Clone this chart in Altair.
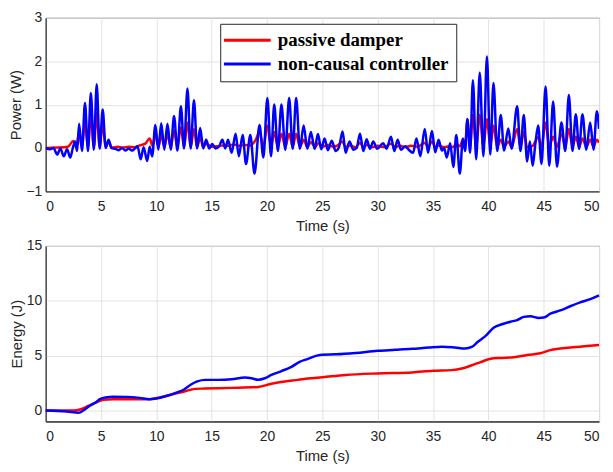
import altair as alt
import pandas as pd

# ---------------- Power (top panel) ----------------
t_noncausal = [0, 0.4, 0.7, 1.04, 1.33, 1.63, 1.93, 2.22, 2.45, 2.66, 2.84, 3.02, 3.28, 3.55, 3.82,
               4.08, 4.35, 4.61, 4.88, 5.15, 5.42, 5.68, 5.95, 6.3, 6.6, 6.9, 7.2, 7.5, 7.8, 8.1,
               8.3, 8.58, 8.85, 9.17, 9.4, 9.62, 9.91, 10.18, 10.44, 10.72, 11.0, 11.3, 11.6, 11.9,
               12.22, 12.5, 12.81, 13.1, 13.4, 13.68, 13.96, 14.23, 14.5, 14.78, 15.05, 15.35, 15.65,
               15.97, 16.22, 16.48, 16.8, 17.16, 17.45, 17.8, 18.1, 18.49, 18.87, 19.32, 19.67, 20.03,
               20.36, 20.65, 20.98, 21.3, 21.65, 22.0, 22.32, 22.63, 22.97, 23.31, 23.64, 23.96, 24.3,
               24.6, 24.9, 25.2, 25.5, 25.85, 26.2, 26.5, 26.83, 27.1, 27.45, 27.8, 28.1, 28.4, 28.7,
               29.0, 29.3, 29.6, 29.95, 30.5, 30.8, 31.2, 31.5, 31.8, 32.1, 32.5, 32.8, 33.2, 33.5,
               33.85, 34.25, 34.55, 34.9, 35.2, 35.5, 35.8, 36.0, 36.24, 36.55, 36.83, 37.1, 37.42,
               37.7, 37.9, 38.1, 38.35, 38.6, 38.9, 39.22, 39.55, 39.87, 40.17, 40.46, 40.8, 41.12,
               41.42, 41.8, 42.1, 42.6, 42.9, 43.2, 43.5, 43.75, 44.0, 44.25, 44.5, 44.8, 45.17,
               45.5, 45.85, 46.2, 46.6, 46.95, 47.27, 47.6, 47.9, 48.2, 48.5, 48.85, 49.2, 49.5,
               49.8, 50.0]
p_noncausal = [0.0, -0.03, 0.0, -0.15, -0.01, -0.19, -0.03, -0.22, 0.0, 0.15, -0.07, 0.56, -0.07, 1.04, -0.07,
               1.27, -0.04, 1.47, -0.02, 0.89, 0.0, 0.19, 0.0, -0.02, -0.05, 0.0, -0.06, -0.01, -0.06, 0.0,
               0.04, -0.26, 0.02, -0.30, 0.03, -0.19, 0.53, -0.04, 0.57, -0.04, 0.56, -0.04, 0.74, -0.06,
               0.96, -0.01, 1.37, -0.01, 1.10, -0.01, 0.46, -0.01, 0.19, -0.01, 0.09, -0.01, 0.03,
               0.19, -0.01, 0.19, -0.11, 0.33, -0.19, 0.30, -0.37, 0.30, -0.59, 0.53, -0.22, 1.15,
               -0.19, 1.0, -0.07, 1.0, -0.04, 1.15, -0.02, 1.15, -0.02, 0.52, -0.02, 0.37, -0.02,
               0.32, -0.03, 0.22, -0.05, 0.17, -0.07, 0.02, 0.38, -0.11, 0.15, -0.04, 0.0, 0.33, -0.07,
               0.20, -0.02, 0.15, -0.02, 0.11, -0.02, 0.26, -0.07, 0.19, -0.04, 0.04, -0.04, -0.11, 0.22,
               -0.19, 0.44, -0.11, 0.39, -0.10, 0.19, -0.06, 0.0, -0.22, 0.11, -0.44, 0.30, -0.59,
               0.22, -0.07, 0.67, -0.11, 1.56, -0.26, 1.74, -0.19, 2.11, -0.15, 1.50, -0.07, 0.76,
               -0.06, 0.45, -0.02, 0.96, -0.07, 0.76, -0.31, 0.15, -0.41, 0.11, 0.52, -0.37, 1.42,
               -0.41, 1.07, -0.43, 0.59, -0.07, 1.22, -0.07, 0.78, -0.02, 0.78, -0.04, 0.59, -0.04,
               0.85, 0.44]

t_passive = [0, 1.0, 2.0, 2.5, 2.75, 3.02, 3.28, 3.55, 3.82, 4.08, 4.35, 4.61, 4.88, 5.15, 5.42, 5.68,
             5.95, 6.5, 7.0, 7.5, 8.0, 8.5, 9.0, 9.4, 9.65, 9.91, 10.18, 10.44, 10.72, 11.0, 11.3, 11.6,
             11.9, 12.22, 12.5, 12.81, 13.1, 13.4, 13.68, 13.96, 14.23, 14.5, 15.0, 15.5, 16.0, 16.5,
             17.0, 17.5, 18.0, 18.5, 19.0, 19.32, 19.67, 20.03, 20.36, 20.65, 20.98, 21.3, 21.65,
             22.0, 22.32, 22.63, 22.97, 23.31, 23.64, 23.96, 24.33, 24.7, 25.0, 25.5, 26.0, 26.4,
             26.8, 27.1, 27.5, 28.0, 28.4, 28.7, 29.0, 29.5, 30.0, 30.6, 31.2, 31.6, 32.0, 32.5, 33.0,
             33.6, 34.25, 34.55, 34.9, 35.2, 35.5, 36.0, 36.5, 36.8, 37.1, 37.42, 37.7, 37.9, 38.1,
             38.35, 38.6, 38.9, 39.22, 39.55, 39.87, 40.17, 40.46, 40.8, 41.12, 41.42, 41.8, 42.1,
             42.6, 42.9, 43.2, 43.5, 44.0, 44.5, 44.8, 45.17, 45.5, 45.85, 46.2, 46.6, 46.95, 47.27,
             47.6, 47.9, 48.2, 48.5, 48.85, 49.2, 49.5, 49.8, 50.0]
p_passive = [0.0, 0.01, 0.03, 0.16, 0.02, 0.35, 0.02, 0.6, 0.02, 0.75, 0.02, 0.8, 0.02, 0.55, 0.02, 0.15,
             0.01, 0.03, 0.01, 0.03, 0.02, 0.06, 0.10, 0.22, 0.05, 0.30, 0.02, 0.30, 0.02, 0.32, 0.02, 0.40,
             0.02, 0.48, 0.02, 0.59, 0.02, 0.44, 0.02, 0.25, 0.02, 0.10, 0.03, 0.04, 0.06, 0.05,
             0.08, 0.05, 0.07, 0.06, 0.20, 0.37, 0.03, 0.52, 0.03, 0.37, 0.03, 0.33, 0.03,
             0.33, 0.03, 0.33, 0.03, 0.19, 0.02, 0.14, 0.02, 0.12, 0.03, 0.07, 0.03, 0.06,
             0.15, 0.02, 0.06, 0.02, 0.12, 0.02, 0.07, 0.02, 0.05, 0.02, 0.10, 0.02, 0.05, 0.02, 0.05,
             0.03, 0.12, 0.02, 0.15, 0.02, 0.06, 0.02, 0.04, 0.02, 0.10, 0.04, 0.19, 0.04, 0.67,
             0.04, 0.76, 0.04, 0.76, 0.04, 0.67, 0.04, 0.52, 0.03, 0.19, 0.02, 0.15, 0.02,
             0.44, 0.02, 0.37, 0.02, 0.05, 0.25, 0.03, 0.59, 0.03, 0.26, 0.03, 0.33, 0.03, 0.44,
             0.03, 0.26, 0.03, 0.22, 0.03, 0.19, 0.03, 0.19, 0.12]

# ---------------- Energy (bottom panel) ----------------
te_noncausal = [0, 1.9, 3.0, 3.4, 4.0, 4.6, 4.9, 5.4, 6.1, 7.3, 8.5, 9.4, 10.0, 10.9, 11.8, 12.5, 13.1,
                13.7, 14.4, 15.6, 16.8, 18.0, 18.6, 19.2, 19.8, 20.4, 21.3, 22.2, 22.9, 23.7, 24.5,
                25.0, 26.25, 28.0, 30.0, 31.6, 33.1, 34.6, 35.8, 37.0, 37.9, 38.5, 39.05, 39.8, 40.5,
                41.3, 42.0, 42.6, 43.2, 43.8, 44.55, 45.0, 45.6, 46.5, 47.4, 48.3, 49.2, 50.0]
e_noncausal = [0.0, -0.1, -0.2, 0.0, 0.44, 0.8, 1.03, 1.18, 1.26, 1.24, 1.15, 1.03, 1.09, 1.32, 1.62, 1.91, 2.35,
               2.65, 2.79, 2.79, 2.85, 3.0, 2.94, 2.8, 2.94, 3.24, 3.59, 3.97, 4.41, 4.7, 5.0,
               5.09, 5.12, 5.24, 5.44, 5.53, 5.62, 5.74, 5.82, 5.74, 5.65, 5.79, 6.26, 6.85, 7.56,
               7.88, 8.09, 8.24, 8.53, 8.59, 8.44, 8.47, 8.82, 9.12, 9.5, 9.85, 10.15, 10.5]

te_passive = [0, 2.5, 3.1, 3.9, 4.6, 5.2, 6.1, 7.9, 9.4, 10.3, 11.5, 12.6, 13.5, 14.4, 16.8, 19.2,
              20.4, 21.6, 22.8, 23.7, 25.0, 27.1, 30.0, 33.1, 35.0, 36.7, 37.6, 38.5, 39.3, 40.2,
              41.1, 42.3, 43.5, 44.7, 45.6, 47.4, 48.9, 50.0]
e_passive = [0.0, 0.0, 0.09, 0.44, 0.74, 0.97, 1.03, 1.03, 1.03, 1.18, 1.47, 1.76, 1.97, 2.0, 2.06, 2.15,
             2.44, 2.65, 2.79, 2.91, 3.03, 3.24, 3.38, 3.47, 3.62, 3.68, 3.82, 4.12, 4.41, 4.71,
             4.79, 4.85, 5.06, 5.21, 5.5, 5.74, 5.88, 5.97]

SERIES = ["passive damper", "non-causal controller"]
COLORS = ["#ff0000", "#0000ff"]
x_ticks = [0, 5, 10, 15, 20, 25, 30, 35, 40, 45, 50]
power_ticks = [-1, 0, 1, 2, 3]
energy_ticks = [0, 5, 10, 15]

W, H1, H2 = 558, 175, 177

df_pp = pd.DataFrame({"t": t_passive, "v": p_passive, "series": SERIES[0]})
df_pn = pd.DataFrame({"t": t_noncausal, "v": p_noncausal, "series": SERIES[1]})
df_ep = pd.DataFrame({"t": te_passive, "v": e_passive})
df_en = pd.DataFrame({"t": te_noncausal, "v": e_noncausal})


def xenc():
    return alt.X("t:Q", scale=alt.Scale(domain=[0, 50], nice=False, zero=False),
                 axis=alt.Axis(title="Time (s)", values=x_ticks, labelPadding=8, titlePadding=5))


color = alt.Color(
    "series:N",
    scale=alt.Scale(domain=SERIES, range=COLORS),
    legend=alt.Legend(
        title=None, orient="none", legendX=176, legendY=6,
        symbolType="M-1.6,0H4.3", symbolSize=256, symbolStrokeWidth=3,
        labelFont="Liberation Serif", labelFontWeight="bold", labelFontSize=19,
        labelColor="black", labelOffset=32, strokeColor="#262626", fillColor="white",
        padding=7, rowPadding=4, cornerRadius=0, labelLimit=400,
    ),
)

ypow = alt.Y("v:Q", scale=alt.Scale(domain=[-1, 3], nice=False),
             axis=alt.Axis(title="Power (W)", values=power_ticks))

top = alt.layer(
    alt.Chart(df_pp).mark_line(strokeWidth=2.5, interpolate="monotone", clip=True).encode(
        x=xenc(), y=ypow, color=color),
    alt.Chart(df_pn).mark_line(strokeWidth=2.5, interpolate="monotone", clip=True).encode(
        x=xenc(), y=ypow, color=color),
).properties(width=W, height=H1)

yen = alt.Y("v:Q", scale=alt.Scale(domain=[-1, 15], nice=False),
            axis=alt.Axis(title="Energy (J)", values=energy_ticks))

bottom = alt.layer(
    alt.Chart(df_ep).mark_line(strokeWidth=2.5, color=COLORS[0], interpolate="monotone").encode(
        x=xenc(), y=yen),
    alt.Chart(df_en).mark_line(strokeWidth=2.5, color=COLORS[1], interpolate="monotone").encode(
        x=xenc(), y=yen),
).properties(width=W, height=H2)

chart = alt.vconcat(top, bottom, spacing=4).properties(padding=0).configure_axis(
    labelFont="Liberation Sans", labelFontSize=14, labelColor="#262626",
    titleFont="Liberation Sans", titleFontSize=15, titleFontWeight="normal", titleColor="#262626",
    gridColor="#e3e3e3", gridWidth=1, domainColor="#262626", tickColor="#262626",
    ticks=False, tickSize=0, labelPadding=4, titlePadding=2,
).configure_view(stroke="#262626", strokeWidth=1)

chart.save("out.html", embed_options={"renderer": "svg", "actions": False})
